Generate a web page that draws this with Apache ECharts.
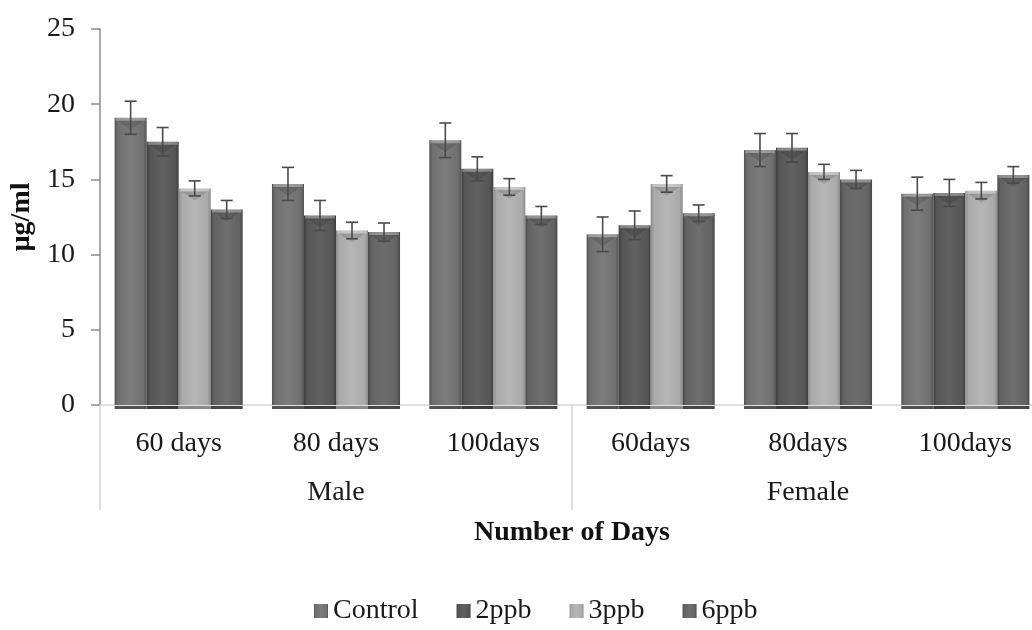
<!DOCTYPE html>
<html>
<head>
<meta charset="utf-8">
<script src="https://cdn.jsdelivr.net/npm/echarts@6/dist/echarts.min.js"></script>
<style>
  html, body { margin: 0; padding: 0; background: #fff; overflow: hidden; }
  #chart { width: 1032px; height: 630px; }
</style>
</head>
<body>
<div id="chart"></div>
<script>
// Serum levels (µg/ml) by sex and exposure period, with SE bars
const categories = ['60 days', '80 days', '100days', '60days', '80days', '100days'];
const sexGroups = ['Male', 'Female'];
const seriesNames = ['Control', '2ppb', '3ppb', '6ppb'];

const controlValues = [19.1, 14.7, 17.6, 11.35, 16.95, 14.05];
const ppb2Values    = [17.5, 12.6, 15.7, 11.95, 17.1, 14.1];
const ppb3Values    = [14.4, 11.6, 14.5, 14.7, 15.5, 14.25];
const ppb6Values    = [13.0, 11.5, 12.6, 12.75, 15.0, 15.3];

const controlErr = [1.1, 1.1, 1.15, 1.15, 1.1, 1.1];
const ppb2Err    = [0.95, 1.0, 0.8, 0.95, 0.95, 0.9];
const ppb3Err    = [0.5, 0.55, 0.55, 0.55, 0.5, 0.55];
const ppb6Err    = [0.6, 0.6, 0.6, 0.55, 0.6, 0.55];

const yTicks = [0, 5, 10, 15, 20, 25];

const allValues = [controlValues, ppb2Values, ppb3Values, ppb6Values];
const allErrors = [controlErr, ppb2Err, ppb3Err, ppb6Err];

// bar shades: [edge, body, highlight]
const shades = [
  ['#525252', '#6f6f6f', '#7c7c7c'],
  ['#3c3c3c', '#555555', '#616161'],
  ['#8a8a8a', '#a9a9a9', '#b6b6b6'],
  ['#464646', '#626262', '#6e6e6e']
];
const CAT_GAP = 0.186;
const FONT = '"Liberation Serif", "Times New Roman", serif';

function barFill(s) {
  const c = shades[s];
  return new echarts.graphic.LinearGradient(0, 0, 1, 0, [
    { offset: 0, color: c[0] },
    { offset: 0.1, color: c[1] },
    { offset: 0.5, color: c[2] },
    { offset: 0.9, color: c[1] },
    { offset: 1, color: c[0] }
  ]);
}

const barSeries = seriesNames.map((name, s) => ({
  name: name,
  type: 'bar',
  barGap: '0%',
  barCategoryGap: (CAT_GAP * 100) + '%',
  itemStyle: { color: barFill(s) },
  data: allValues[s],
  z: 2
}));

// bevel tops, floor strip and error bars drawn over each bar
const overlayData = [];
for (let s = 0; s < 4; s++) {
  for (let i = 0; i < categories.length; i++) {
    overlayData.push([i, allValues[s][i], allErrors[s][i], s]);
  }
}

function renderOverlay(params, api) {
  const cat = api.value(0), val = api.value(1), err = api.value(2), s = api.value(3);
  const band = api.size([1, 0])[0];
  const groupW = band * (1 - CAT_GAP);
  const bw = groupW / 4;
  const base = api.coord([cat, 0]);
  const x0 = base[0] - groupW / 2 + bw * s;
  const x1 = x0 + bw;
  const xc = (x0 + x1) / 2;
  const yt = api.coord([cat, val])[1];
  const yHi = api.coord([cat, val + err])[1];
  const yLo = api.coord([cat, val - err])[1];
  const errStyle = { stroke: '#4a4a4a', lineWidth: 1.6 };
  return {
    type: 'group',
    children: [
      { type: 'rect', shape: { x: x0, y: base[1] + 1, width: bw, height: 3 },
        style: { fill: shades[s][0] } },
      { type: 'rect', shape: { x: x0 + 1, y: yt, width: bw - 2, height: 3 },
        style: { fill: 'rgba(255,255,255,0.28)' } },
      { type: 'polygon', shape: { points: [[x0 + 3, yt + 3], [x1 - 3, yt + 3], [xc, yt + 12]] },
        style: { fill: 'rgba(0,0,0,0.13)' } },
      { type: 'line', shape: { x1: xc, y1: yHi, x2: xc, y2: yLo }, style: errStyle },
      { type: 'line', shape: { x1: xc - 6, y1: yHi, x2: xc + 6, y2: yHi }, style: errStyle },
      { type: 'line', shape: { x1: xc - 6, y1: yLo, x2: xc + 6, y2: yLo }, style: errStyle }
    ]
  };
}

const chart = echarts.init(document.getElementById('chart'), null, { renderer: 'canvas' });
chart.setOption({
  backgroundColor: '#ffffff',
  animation: false,
  textStyle: { fontFamily: FONT },
  // plot area runs a little past the right edge of the canvas
  grid: {
    left: 100, right: -12, top: 29, bottom: 225,
    containLabel: false,
    outerBoundsMode: 'none'
  },
  legend: {
    data: seriesNames,
    left: 309,
    top: 592,
    icon: 'rect',
    itemWidth: 14,
    itemHeight: 14,
    itemGap: 38,
    textStyle: { fontFamily: FONT, fontSize: 28, color: '#1a1a1a' }
  },
  xAxis: [
    {
      type: 'category',
      data: categories,
      position: 'bottom',
      axisLine: { show: true, lineStyle: { color: '#d6d6d6', width: 1.5 } },
      axisTick: { show: false },
      axisLabel: { margin: 25, fontFamily: FONT, fontSize: 28, color: '#1a1a1a', interval: 0 },
      name: 'Number of Days',
      nameLocation: 'middle',
      nameGap: 114,
      nameTextStyle: { fontFamily: FONT, fontSize: 28, fontWeight: 'bold', color: '#111' }
    },
    {
      type: 'category',
      data: sexGroups,
      position: 'bottom',
      axisLine: { show: false },
      axisTick: { show: true, length: 105, interval: 0, lineStyle: { color: '#d6d6d6', width: 1.5 } },
      axisLabel: { margin: 74, fontFamily: FONT, fontSize: 28, color: '#1a1a1a', interval: 0 }
    }
  ],
  yAxis: {
    type: 'value',
    min: 0,
    max: 25,
    interval: 5,
    axisLine: { show: true, lineStyle: { color: '#8c8c8c', width: 1.5 } },
    axisTick: { show: true, length: 9, lineStyle: { color: '#8c8c8c', width: 1.5 } },
    splitLine: { show: false },
    axisLabel: {
      margin: 25,
      fontFamily: FONT, fontSize: 28, color: '#1a1a1a',
      formatter: v => (yTicks.indexOf(v) >= 0 ? String(v) : '')
    },
    name: 'µg/ml',
    nameLocation: 'middle',
    nameGap: 57,
    nameRotate: 90,
    nameTextStyle: { fontFamily: FONT, fontSize: 28, fontWeight: 'bold', color: '#111' }
  },
  series: barSeries.concat([{
    type: 'custom',
    renderItem: renderOverlay,
    data: overlayData,
    encode: { x: 0, y: 1 },
    z: 5,
    silent: true,
    clip: false
  }])
});
</script>
</body>
</html>
